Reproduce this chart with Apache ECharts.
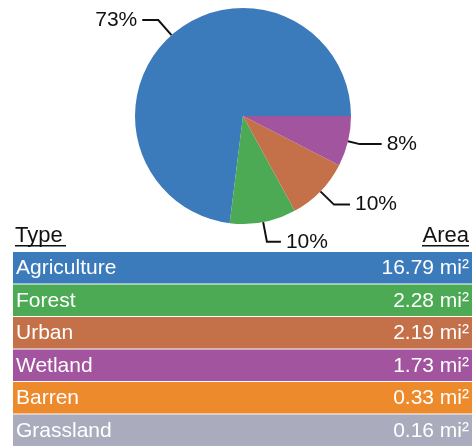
<!DOCTYPE html>
<html>
<head>
<meta charset="utf-8">
<script src="https://cdn.jsdelivr.net/npm/echarts@6/dist/echarts.min.js"></script>
<style>
  html, body { margin: 0; padding: 0; background: #fff; }
  #main { width: 474px; height: 447px; }
</style>
</head>
<body>
<div id="main"></div>
<script>
// land use types and their area (mi²)
var types = ['Agriculture', 'Forest', 'Urban', 'Wetland', 'Barren', 'Grassland'];
var areas = [16.79, 2.28, 2.19, 1.73, 0.33, 0.16];
var colors = ['#3c7bbb', '#4caa55', '#c4714a', '#a2549e', '#ec8a2c', '#aaacbd'];
// only the first four types are in the pie
var pieCount = 4;

var font = 'Liberation Sans, Arial, sans-serif';
var chart = echarts.init(document.getElementById('main'));

var pieTotal = 0;
for (var i = 0; i < pieCount; i++) pieTotal += areas[i];

// label placement per slice (leader lines)
var pieLabels = [
  { length: 20, length2: 16 },
  { length: 20, length2: 14 },
  { length: 19, length2: 16 },
  { length: 12, length2: 22 }
];

var pieData = [];
for (var i = 0; i < pieCount; i++) {
  pieData.push({
    name: types[i],
    value: areas[i],
    itemStyle: { color: colors[i] },
    labelLine: pieLabels[i]
  });
}

var tableData = types.map(function (t, i) { return [i, areas[i]]; });

var option = {
  animation: false,
  grid: { left: 13, right: 2, top: 252, height: 196 },
  xAxis: { type: 'value', min: 0, max: 1, show: false },
  yAxis: { type: 'category', data: types, inverse: true, show: false },
  graphic: [
    { type: 'text', left: 15, top: 225, style: { text: 'Type', font: '22px ' + font, fill: '#111' } },
    { type: 'rect', left: 15, top: 245, shape: { width: 51, height: 1.5 }, style: { fill: '#111' } },
    { type: 'text', right: 5, top: 225, style: { text: 'Area', font: '22px ' + font, fill: '#111' } },
    { type: 'rect', right: 5, top: 245, shape: { width: 47, height: 1.5 }, style: { fill: '#111' } }
  ],
  series: [
    {
      type: 'pie',
      center: [243, 116],
      radius: 108,
      startAngle: 0,
      clockwise: false,
      data: pieData,
      label: {
        color: '#111',
        fontSize: 21,
        fontFamily: font,
        formatter: function (p) { return Math.round(p.value / pieTotal * 100) + '%'; }
      },
      labelLine: { lineStyle: { color: '#111', width: 2 }, smooth: false }
    },
    {
      type: 'custom',
      coordinateSystem: 'cartesian2d',
      data: tableData,
      encode: { y: 0, x: 1 },
      renderItem: function (params, api) {
        var idx = api.value(0);
        var pt = api.coord([0, idx]);
        var h = api.size([0, 1])[1];
        var cs = params.coordSys;
        return {
          type: 'group',
          children: [
            { type: 'rect', shape: { x: cs.x, y: pt[1] - h / 2, width: cs.width, height: h - 1 },
              style: { fill: colors[idx] } },
            { type: 'text', x: cs.x + 3, y: pt[1],
              style: { text: types[idx], font: '21px ' + font, fill: '#fff', verticalAlign: 'middle' } },
            { type: 'text', x: cs.x + cs.width - 3, y: pt[1],
              style: { text: api.value(1).toFixed(2) + ' mi²', font: '21px ' + font, fill: '#fff',
                       align: 'right', verticalAlign: 'middle' } }
          ]
        };
      }
    }
  ]
};

chart.setOption(option);
</script>
</body>
</html>
